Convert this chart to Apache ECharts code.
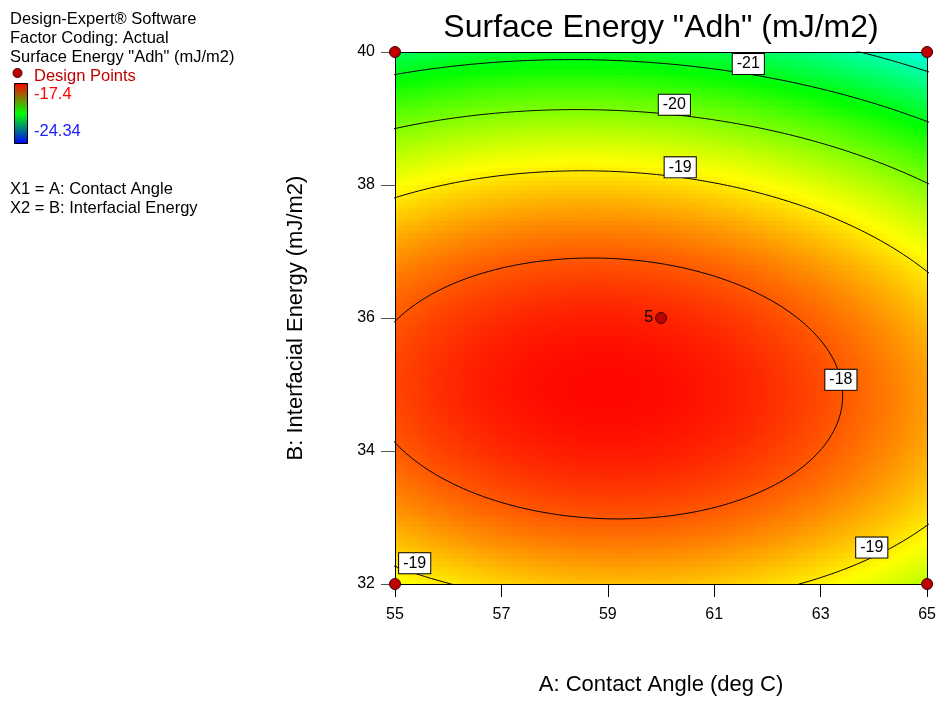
<!DOCTYPE html>
<html>
<head>
<meta charset="utf-8">
<script src="https://cdn.jsdelivr.net/npm/echarts@6/dist/echarts.min.js"></script>
<style>
  html, body { margin: 0; padding: 0; background: #fff; }
  #chart { width: 939px; height: 701px; }
</style>
</head>
<body>
<div id="chart"></div>
<script>
// ---- Factor ranges and axis ticks (actual units) ----
const factorA = [55, 65];                 // A: Contact Angle (deg C)
const factorB = [32, 40];                 // B: Interfacial Energy (mJ/m2)
const tickA = [55, 57, 59, 61, 63, 65];
const tickB = [32, 34, 36, 38, 40];

// ---- Fitted quadratic response for Adh ----
// Adh = peak - kA*dA^2 - kB*dB^2 - kAB*dA*dB,  dA = A - centreA, dB = B - centreB
const modelCentre = [58.95, 34.94];
const modelPeak = -17.44;
const modelCurvature = [0.0282, 0.146, 0.0072];   // kA, kB, kAB

// ---- Colour scale (observed response range) ----
const responseRange = [-24.34, -17.4];
const rampColours = ['#0000ff', '#00ffff', '#00ff00', '#ffff00', '#ff0000'];

// ---- Contours and their labels ----
// A label sits on its contour at the given A (upper/lower branch),
// or at the given B on the right-hand side of a closed contour.
const contourLevels = [-18, -19, -20, -21, -22];
const labelLevels   = [-21, -20, -19, -18, -19, -19];
const labelAt       = [61.64, 60.25, 60.36, 35.07, 55.37, 63.96];
const labelBranch   = ['upper', 'upper', 'upper', 'right', 'lower', 'lower'];

// ---- Design points ----
const designA = [55, 55, 65, 65, 60];
const designB = [32, 40, 32, 40, 36];
const designRuns = [1, 1, 1, 1, 5];

const FONT = "'Liberation Sans', Arial, Helvetica, sans-serif";

function predict(a, b) {
  const [kA, kB, kAB] = modelCurvature;
  const dA = a - modelCentre[0], dB = b - modelCentre[1];
  return modelPeak - kA * dA * dA - kB * dB * dB - kAB * dA * dB;
}

// Response on a fine grid of cells covering the design space
const nA = 120, nB = 120;
const stepA = (factorA[1] - factorA[0]) / nA;
const stepB = (factorB[1] - factorB[0]) / nB;
const surface = [];
for (let i = 0; i < nA; i++) {
  for (let j = 0; j < nB; j++) {
    const a = factorA[0] + (i + 0.5) * stepA;
    const b = factorB[0] + (j + 0.5) * stepB;
    surface.push([a, b, predict(a, b)]);
  }
}

// Each contour of the quadratic is an ellipse around the centre
function contourPath(level) {
  const [kA, kB, kAB] = modelCurvature;
  const D = modelPeak - level;
  const pts = [];
  const n = 1440;
  for (let k = 0; k <= n; k++) {
    const t = (k / n) * Math.PI * 2;
    const c = Math.cos(t), s = Math.sin(t);
    const q = kA * c * c + kB * s * s + kAB * c * s;
    const r = Math.sqrt(D / q);
    pts.push([modelCentre[0] + r * c, modelCentre[1] + r * s]);
  }
  return pts;
}

function contourPoint(level, at, branch) {
  const [kA, kB, kAB] = modelCurvature;
  const D = modelPeak - level;
  if (branch === 'right') {
    // solve for A at fixed B
    const dB = at - modelCentre[1];
    const disc = Math.max(0, Math.pow(kAB * dB, 2) - 4 * kA * (kB * dB * dB - D));
    const u = (-kAB * dB + Math.sqrt(disc)) / (2 * kA);
    return [modelCentre[0] + u, at];
  }
  const dA = at - modelCentre[0];
  const disc = Math.max(0, Math.pow(kAB * dA, 2) - 4 * kB * (kA * dA * dA - D));
  const sq = Math.sqrt(disc);
  const v = branch === 'upper' ? (-kAB * dA + sq) / (2 * kB) : (-kAB * dA - sq) / (2 * kB);
  return [at, modelCentre[1] + v];
}

const contourSeries = contourLevels.map(level => ({
  type: 'line',
  data: contourPath(level),
  showSymbol: false,
  symbol: 'none',
  clip: true,
  silent: true,
  smooth: false,
  z: 3,
  lineStyle: { color: '#000', width: 1 }
}));

const labelData = labelLevels.map((level, i) => {
  const p = contourPoint(level, labelAt[i], labelBranch[i]);
  const centred = labelBranch[i] === 'right';
  return {
    value: [p[0], p[1], level],
    label: centred ? { position: 'inside' } : { position: 'top', distance: 0 }
  };
});

const designData = designA.map((a, i) => [a, designB[i], designRuns[i]]);

const chart = echarts.init(document.getElementById('chart'));

const baseAxis = {
  type: 'value',
  splitLine: { show: false },
  z: 5
};

function legendText(x, y, text, colour, size) {
  return {
    type: 'text', x: x, y: y,
    style: { text: text, font: (size || 16.5) + 'px ' + FONT, fill: colour || '#000', verticalAlign: 'middle' }
  };
}

chart.setOption({
  animation: false,
  backgroundColor: '#fff',
  textStyle: { fontFamily: FONT },
  grid: { left: 395, top: 52, width: 535, height: 535, containLabel: false },
  xAxis: [
    Object.assign({}, baseAxis, {
      min: factorA[0], max: factorA[1], position: 'bottom',
      name: 'A: Contact Angle (deg C)', nameLocation: 'middle', nameGap: 90,
      nameTextStyle: { fontSize: 22, color: '#000', fontFamily: FONT },
      axisLine: { show: true, lineStyle: { color: '#000', width: 1 } },
      axisTick: { show: true, inside: false, length: 13, customValues: tickA, lineStyle: { color: '#000' } },
      axisLabel: { show: true, customValues: tickA, margin: 23, fontSize: 16, color: '#000', fontFamily: FONT }
    }),
    Object.assign({}, baseAxis, {
      min: factorA[0], max: factorA[1], position: 'top',
      axisLine: { show: true, onZero: false, lineStyle: { color: '#000', width: 1 } },
      axisTick: { show: false }, axisLabel: { show: false }
    })
  ],
  yAxis: [
    Object.assign({}, baseAxis, {
      min: factorB[0], max: factorB[1], position: 'left',
      name: 'B: Interfacial Energy (mJ/m2)', nameLocation: 'middle', nameGap: 88,
      nameTextStyle: { fontSize: 22, color: '#000', fontFamily: FONT },
      axisLine: { show: true, lineStyle: { color: '#000', width: 1 } },
      axisTick: { show: true, inside: false, length: 14, customValues: tickB, lineStyle: { color: '#555' } },
      axisLabel: { show: true, customValues: tickB, margin: 20, fontSize: 16, color: '#000', fontFamily: FONT }
    }),
    Object.assign({}, baseAxis, {
      min: factorB[0], max: factorB[1], position: 'right',
      axisLine: { show: true, onZero: false, lineStyle: { color: '#000', width: 1 } },
      axisTick: { show: false }, axisLabel: { show: false }
    })
  ],
  visualMap: {
    type: 'continuous',
    show: false,
    seriesIndex: 0,
    dimension: 2,
    min: responseRange[0],
    max: responseRange[1],
    inRange: { color: rampColours }
  },
  series: [
    {
      type: 'custom',
      data: surface,
      encode: { x: 0, y: 1 },
      clip: true,
      silent: true,
      z: 1,
      renderItem: function (params, api) {
        const a = api.value(0), b = api.value(1);
        const p0 = api.coord([a - stepA / 2, b + stepB / 2]);
        const p1 = api.coord([a + stepA / 2, b - stepB / 2]);
        const x0 = Math.floor(p0[0]), y0 = Math.floor(p0[1]);
        const x1 = Math.ceil(p1[0]), y1 = Math.ceil(p1[1]);
        return {
          type: 'rect',
          shape: { x: x0, y: y0, width: x1 - x0, height: y1 - y0 },
          style: { fill: api.visual('color') }
        };
      }
    },
    ...contourSeries,
    {
      type: 'scatter',
      data: labelData,
      symbolSize: 0,
      silent: true,
      clip: false,
      z: 6,
      itemStyle: { opacity: 1 },
      label: {
        show: true,
        formatter: p => String(p.value[2]),
        color: '#000',
        fontSize: 16,
        fontFamily: FONT,
        lineHeight: 18,
        backgroundColor: '#fff',
        borderColor: '#000',
        borderWidth: 1,
        padding: [1, 4, 1, 4]
      }
    },
    {
      type: 'scatter',
      data: designData,
      symbol: 'circle',
      symbolSize: 11,
      clip: false,
      silent: true,
      z: 10,
      itemStyle: { color: '#c00000', borderColor: '#3a0000', borderWidth: 1, opacity: 1 },
      label: {
        show: true,
        position: 'left',
        distance: 2,
        formatter: p => (p.value[2] > 1 ? String(p.value[2]) : ''),
        color: '#000',
        fontSize: 16,
        fontFamily: FONT
      }
    }
  ],
  graphic: [
    { type: 'text', x: 661, y: 28.5, style: { text: 'Surface Energy "Adh" (mJ/m2)', font: '32px ' + FONT, fill: '#000', align: 'center', verticalAlign: 'middle' } },
    legendText(10, 19, 'Design-Expert\u00ae Software'),
    legendText(10, 38, 'Factor Coding: Actual'),
    legendText(10, 57, 'Surface Energy "Adh" (mJ/m2)'),
    { type: 'circle', shape: { cx: 17.5, cy: 73, r: 4.5 }, style: { fill: '#c00000', stroke: '#3a0000', lineWidth: 1 } },
    legendText(34, 76, 'Design Points', '#c00000'),
    {
      type: 'rect', shape: { x: 14.5, y: 83.5, width: 13, height: 60 },
      style: {
        stroke: '#000', lineWidth: 1,
        fill: new echarts.graphic.LinearGradient(0, 0, 0, 1, [
          { offset: 0, color: '#ff0000' },
          { offset: 0.5, color: '#00ff00' },
          { offset: 1, color: '#0000ff' }
        ])
      }
    },
    legendText(34, 94, String(responseRange[1]), '#ff0000'),
    legendText(34, 131, String(responseRange[0]), '#2020ff'),
    legendText(10, 189, 'X1 = A: Contact Angle'),
    legendText(10, 208, 'X2 = B: Interfacial Energy')
  ]
});
</script>
</body>
</html>
